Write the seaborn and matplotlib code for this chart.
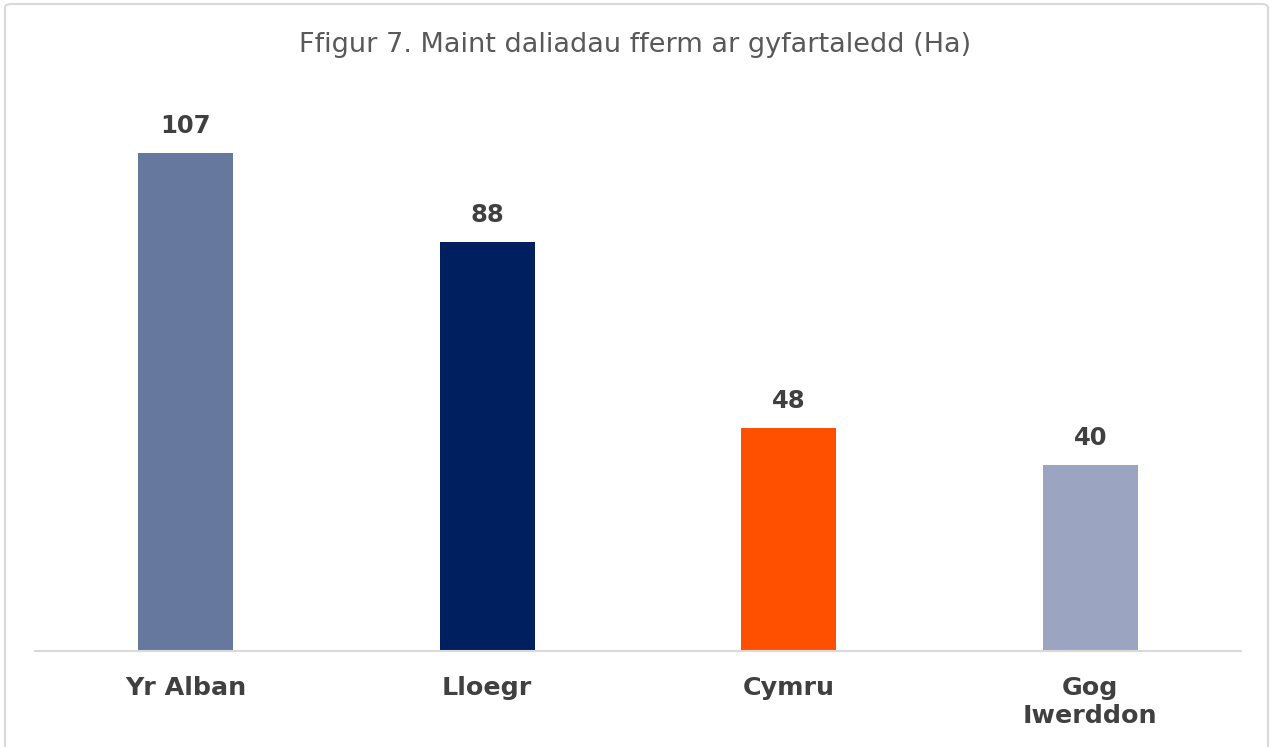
import pandas as pd
import seaborn as sns
import matplotlib.pyplot as plt
from matplotlib.patches import FancyBboxPatch

# data
regions = ['Yr Alban', 'Lloegr', 'Cymru', 'Gog\nIwerddon']
avg_size = [107, 88, 48, 40]
bar_colors = ['#67789F', '#001F5F', '#FF5000', '#9BA5C1']

df = pd.DataFrame({'region': regions, 'size': avg_size})

sns.set_style('white')
plt.rcParams['font.family'] = ['DejaVu Sans']

fig = plt.figure(figsize=(12.7, 7.47), dpi=100)
ax = fig.add_axes([35 / 1270, 1 - 651 / 747, 1206 / 1270, 558 / 747])

sns.barplot(data=df, x='region', y='size', hue='region', palette=bar_colors,
            width=0.315, legend=False, ax=ax, saturation=1, linewidth=0)

ax.set_ylim(0, 120)
ax.set_yticks([])
ax.set_xlabel('')
ax.set_ylabel('')
for side in ['top', 'right', 'left']:
    ax.spines[side].set_visible(False)
ax.spines['bottom'].set_color('#D9D9D9')
ax.spines['bottom'].set_linewidth(1.5)
ax.tick_params(axis='x', length=0, pad=18)
for lab in ax.get_xticklabels():
    lab.set_fontsize(18.3)
    lab.set_fontweight('bold')
    lab.set_color('#404040')
    lab.set_linespacing(1.2)

# value labels above bars
for bars in ax.containers:
    ax.bar_label(bars, fmt='%d', padding=11, fontsize=17.5,
                 fontweight='bold', color='#404040')

fig.text(0.5, 1 - 45 / 747, 'Ffigur 7. Maint daliadau fferm ar gyfartaledd (Ha)',
         ha='center', va='center', fontsize=19.5, color='#595959')

# light frame round the chart
frame = FancyBboxPatch((5 / 1270, -0.02), 1263 / 1270, 1 - 4 / 747 + 0.02,
                       boxstyle='round,pad=0,rounding_size=0.005',
                       transform=fig.transFigure, fill=False,
                       edgecolor='#D9D9D9', linewidth=1.5)
fig.patches.append(frame)

plt.savefig('out.png', dpi=100)
